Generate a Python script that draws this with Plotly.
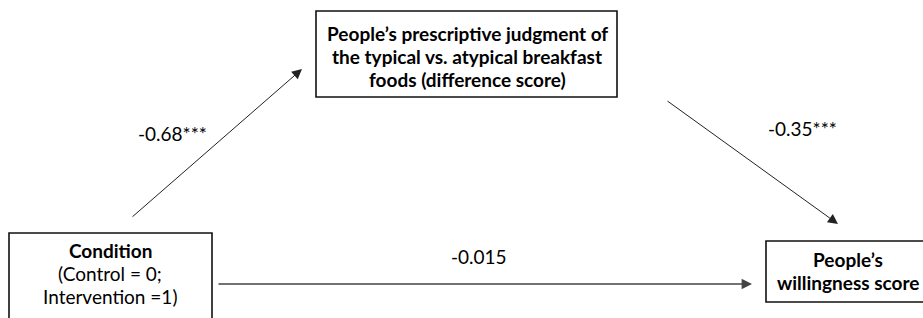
import plotly.graph_objects as go

# ---- data ----
node_names = ["mediator", "condition", "outcome"]
node_lines = [
    ["People\u2019s prescriptive judgment of", "the typical vs. atypical breakfast", "foods (difference score)"],
    ["Condition", "(Control = 0;", "Intervention =1)"],
    ["People\u2019s", "willingness score"],
]
node_bold_lines = [3, 1, 2]  # how many leading lines are bold
path_names = ["a", "b", "c_prime"]
path_labels = ["-0.68***", "-0.35***", "-0.015"]

# ---- layout geometry (pixel space, y downward) ----
W, H = 923, 318
LINE_GAP = 23
boxes = {
    "mediator": (316, 11, 617, 97),
    "condition": (9, 233, 212, 340),
    "outcome": (766, 241, 940, 302),
}
text_pos = {  # center x, y of first line
    "mediator": (467, 33),
    "condition": (110, 250),
    "outcome": (848, 259),
}
arrows = {
    "a": ((131, 218), (302, 69)),
    "b": ((666, 100), (838, 224)),
    "c_prime": ((217, 284), (752, 284)),
}
label_pos = {
    "a": (172, 133),
    "b": (802, 128),
    "c_prime": (479, 256),
}

FONT = "Lato, 'Open Sans', sans-serif"
FS = 19

fig = go.Figure()
fig.add_trace(go.Scatter(x=[0, W], y=[0, H], mode="markers",
                         marker=dict(opacity=0), hoverinfo="skip", showlegend=False))

for name, lines, nb in zip(node_names, node_lines, node_bold_lines):
    x0, y0, x1, y1 = boxes[name]
    fig.add_shape(type="rect", x0=x0, y0=y0, x1=x1, y1=y1,
                  line=dict(color="#111111", width=1.6), fillcolor="white", layer="below")
    tx, ty = text_pos[name]
    for k, line in enumerate(lines):
        txt = "<b>" + line + "</b>" if k < nb else line
        fig.add_annotation(x=tx, y=ty + k * LINE_GAP, text=txt, showarrow=False,
                           xanchor="center", yanchor="middle",
                           font=dict(family=FONT, size=FS, color="black"))

for pname, lab in zip(path_names, path_labels):
    (sx, sy), (ex, ey) = arrows[pname]
    horiz = pname == "c_prime"
    fig.add_annotation(x=ex, y=ey, ax=sx, ay=sy, xref="x", yref="y", axref="x", ayref="y",
                       text="", showarrow=True, arrowhead=2,
                       arrowsize=1.3 if horiz else 2.0,
                       arrowwidth=1.6 if horiz else 1.0,
                       arrowcolor="#444444" if horiz else "#222222")
    lx, ly = label_pos[pname]
    fig.add_annotation(x=lx, y=ly, text=lab, showarrow=False,
                       font=dict(family=FONT, size=FS, color="black"))

fig.update_layout(
    width=W, height=H, margin=dict(l=0, r=0, t=0, b=0),
    plot_bgcolor="white", paper_bgcolor="white", showlegend=False,
    xaxis=dict(range=[0, W], visible=False, fixedrange=True),
    yaxis=dict(range=[H, 0], visible=False, fixedrange=True),
)
fig.write_html("out.html", config={"displayModeBar": False},
               post_script="document.body.style.margin='0';document.body.style.padding='0';")
